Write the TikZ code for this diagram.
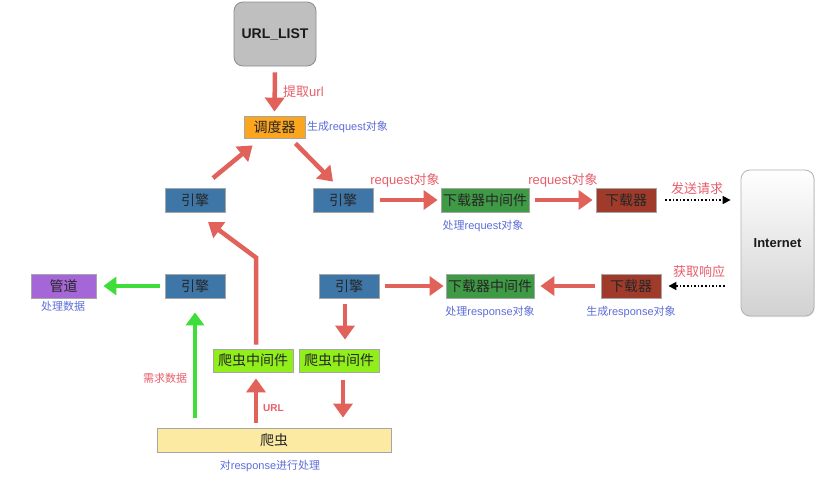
\documentclass[tikz,border=0pt]{standalone}
\usepackage{fontspec}
\setmainfont{Liberation Sans}
\newfontfamily\cjk{Noto Sans CJK SC}
\usetikzlibrary{arrows.meta,calc,shadows}
\definecolor{arrred}{HTML}{E0625A}
\definecolor{lblred}{HTML}{E85E6A}
\definecolor{lblblue}{HTML}{5C6ED8}
\definecolor{engblue}{HTML}{3E76A8}
\definecolor{midgreen}{HTML}{3F9A45}
\definecolor{dlbrown}{HTML}{A03B2B}
\definecolor{schorange}{HTML}{FCA51E}
\definecolor{pipepurple}{HTML}{A567D8}
\definecolor{spgreen}{HTML}{90EE1A}
\definecolor{spyellow}{HTML}{FCEAA2}
\definecolor{arrgreen}{HTML}{3EDD3A}
\tikzset{
  boxbase/.style={draw=black!35, line width=0.8pt, inner sep=0pt, font=\fontsize{14}{14}\selectfont\cjk, text=black!85, drop shadow={shadow xshift=0.8pt, shadow yshift=-0.8pt, opacity=0.25}},
  engine/.style={boxbase, fill=engblue, minimum width=60pt, minimum height=24pt},
  middle/.style={boxbase, fill=midgreen, minimum width=88pt, minimum height=24pt},
  loader/.style={boxbase, fill=dlbrown, minimum width=60pt, minimum height=24pt},
  spmid/.style={boxbase, fill=spgreen, minimum width=80pt, minimum height=23pt},
  redarr/.style={draw=arrred, line width=4.5pt, -{Triangle[length=14pt,width=19pt]}},
  greenarr/.style={draw=arrgreen, line width=4pt, -{Triangle[length=13pt,width=18pt]}},
  dotarr/.style={draw=black, line width=1.6pt, dotted, -{Triangle[length=8pt,width=8pt]}},
  redlbl/.style={text=lblred, font=\fontsize{13}{13}\selectfont, inner sep=0pt},
  bluelbl/.style={text=lblblue, font=\fontsize{11}{11}\selectfont, inner sep=0pt},
}
\begin{document}
\begin{tikzpicture}[x=1pt,y=-1pt]
\useasboundingbox[fill=white] (0,0) rectangle (821,499);
% nodes
\node[draw=black!45, line width=0.8pt, fill=black!25, rounded corners=9pt, minimum width=82pt, minimum height=64pt, font=\fontsize{14}{14}\selectfont\bfseries, text=black!90] (urllist) at (275,34) {URL\_LIST};
\node[boxbase, fill=schorange, minimum width=61pt, minimum height=22pt] (sched) at (274.5,127) {调度器};
\node[engine] (e1) at (195,200.5) {引擎};
\node[engine] (e2) at (343,200) {引擎};
\node[middle] (m1) at (485,200) {下载器中间件};
\node[loader] (d1) at (626,200) {下载器};
\node[draw=black!30, line width=0.8pt, rounded corners=9pt, top color=white, bottom color=black!18, minimum width=73pt, minimum height=146pt, font=\fontsize{13}{13}\selectfont\bfseries, text=black!90, drop shadow={shadow xshift=0.8pt, shadow yshift=-1pt, opacity=0.2}] (inet) at (777.5,243) {Internet};
\node[boxbase, fill=pipepurple, minimum width=65pt, minimum height=24pt] (pipe) at (63.5,286) {管道};
\node[engine] (e3) at (195,286) {引擎};
\node[engine] (e4) at (349,286) {引擎};
\node[middle] (m2) at (490,286) {下载器中间件};
\node[loader] (d2) at (631,286) {下载器};
\node[spmid] (sm1) at (253,360.5) {爬虫中间件};
\node[spmid] (sm2) at (339,360.5) {爬虫中间件};
\node[boxbase, fill=spyellow, minimum width=234pt, minimum height=24pt] (spider) at (274,440) {爬虫};
% labels
\node[redlbl, anchor=west] (l1) at (283,92) {{\cjk 提取}url};
\node[bluelbl, anchor=west] (l2) at (307,127) {{\cjk 生成}request{\cjk 对象}};
\node[redlbl] (l3) at (405,180) {request{\cjk 对象}};
\node[redlbl] (l4) at (563,180) {request{\cjk 对象}};
\node[redlbl] (l5) at (697,189) {\cjk 发送请求};
\node[bluelbl] (l6) at (483,226) {{\cjk 处理}request{\cjk 对象}};
\node[redlbl] (l7) at (699,272) {\cjk 获取响应};
\node[bluelbl] (l8) at (490,312) {{\cjk 处理}response{\cjk 对象}};
\node[bluelbl] (l9) at (631,312) {{\cjk 生成}response{\cjk 对象}};
\node[bluelbl] (l10) at (63,306) {\cjk 处理数据};
\node[redlbl, font=\fontsize{11}{11}\selectfont\cjk] (l11) at (165,378) {需求数据};
\node[redlbl, font=\fontsize{10}{10}\selectfont\bfseries, anchor=west] (l12) at (263,408) {URL};
\node[bluelbl] (l13) at (270,466) {{\cjk 对}response{\cjk 进行处理}};
% connectors
\draw[redarr] ([yshift=-6pt]urllist.south) -- ([yshift=4pt]sched.north);
\draw[redarr] ([xshift=18pt,yshift=10pt]e1.north) -- ([xshift=9pt,yshift=-7pt]sched.south west);
\draw[redarr] ([xshift=-10pt,yshift=-5pt]sched.south east) -- ([xshift=-10pt,yshift=6pt]e2.north);
\draw[redarr] ([xshift=7pt]e2.east) -- ([xshift=-3pt]m1.west);
\draw[redarr] ([xshift=6pt]m1.east) -- ([xshift=-3pt]d1.west);
\draw[dotarr] ([xshift=9pt]d1.east) -- ([xshift=-10pt]inet.west |- d1.east);
\draw[dotarr] ([xshift=-16pt]inet.west |- d2.east) -- ([xshift=7pt]d2.east);
\draw[redarr] ([xshift=-6pt]d2.west) -- ([xshift=6pt]m2.west -| m2.east);
\draw[redarr] ([xshift=6pt]e4.east) -- ([xshift=-2pt]m2.west);
\draw[greenarr] ([xshift=-5pt]e3.west) -- ([xshift=7pt]pipe.east);
\draw[redarr] ([xshift=3pt,yshift=4pt]sm1.north) -- ++(0,-87) -- ([xshift=13pt,yshift=-9pt]e1.south);
\draw[redarr] ([xshift=-4pt,yshift=-6pt]e4.south) -- ([xshift=6pt,yshift=9pt]sm2.north);
\draw[redarr] ([xshift=4pt,yshift=-8pt]sm2.south) -- ($(sm2.south |- spider.north)+(4,-10)$);
\draw[redarr] ($(sm1.south |- spider.north)+(3,-5)$) -- ([xshift=3pt,yshift=-6pt]sm1.south);
\draw[greenarr] ($(e3.south |- spider.north)+(0,-10)$) -- ([yshift=-14pt]e3.south);
\end{tikzpicture}
\end{document}
